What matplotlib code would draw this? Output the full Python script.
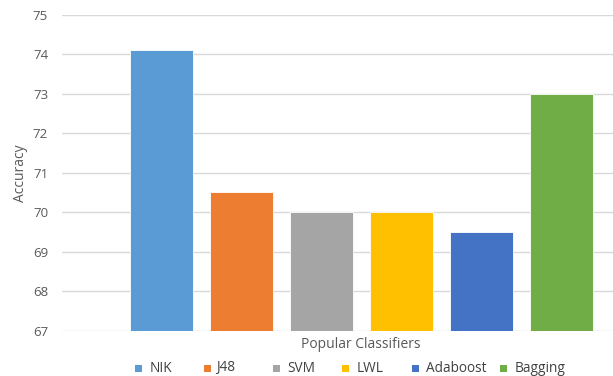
import matplotlib
matplotlib.use("Agg")
import matplotlib.pyplot as plt
from matplotlib.patches import Rectangle

classifiers = ["NIK", "J48", "SVM", "LWL", "Adaboost", "Bagging"]
accuracy = [74.1, 70.5, 70.0, 70.0, 69.5, 73.0]
colors = ["#5B9BD5", "#ED7D31", "#A5A5A5", "#FFC000", "#4472C4", "#70AD47"]
yticks = [67, 68, 69, 70, 71, 72, 73, 74, 75]

W, H = 613, 376
plt.rcParams['font.family'] = ['Open Sans', 'DejaVu Sans']
fig = plt.figure(figsize=(W / 100, H / 100), dpi=100)

left_px, right_px, top_px, bot_px = 62, 613, 15, 330.5
ax = fig.add_axes([left_px / W, (H - bot_px) / H, (right_px - left_px) / W, (bot_px - top_px) / H])

xs = list(range(len(classifiers)))
ax.bar(xs, [a - 67 for a in accuracy], bottom=67, width=0.78, color=colors,
       edgecolor="white", linewidth=0.6, zorder=3)

slot = 80.0
c0 = 161.5
ax.set_xlim((left_px - c0) / slot, (right_px - c0) / slot)
ax.set_ylim(67, 75)
ax.set_yticks(yticks)
ax.set_yticklabels([str(t) for t in yticks])
ax.set_xticks([])
ax.grid(axis="y", color="#d9d9d9", linewidth=1, zorder=0)
for s in ax.spines.values():
    s.set_visible(False)
ax.tick_params(axis="y", length=0, pad=10, labelsize=9.5, labelcolor="#595959")

fig.text(20 / W, 1 - 173 / H, "Accuracy", rotation=90, ha="center", va="center",
         fontsize=10, color="#595959")
fig.text(361 / W, 1 - 344 / H, "Popular Classifiers", ha="center", va="center",
         fontsize=10, color="#595959")

marker_x = [135, 204, 273, 342, 412, 500]
text_x = [150, 216, 287, 357, 426, 515]
ly = 368
msz = 7
for lab, col, mx, tx in zip(classifiers, colors, marker_x, text_x):
    fig.patches.append(Rectangle((mx / W, (H - ly - msz / 2) / H), msz / W, msz / H,
                                 transform=fig.transFigure, facecolor=col, edgecolor="none"))
    fig.text(tx / W, 1 - ly / H, lab, ha="left", va="center", fontsize=9.8, color="#404040")

fig.savefig("out.png", dpi=100)
